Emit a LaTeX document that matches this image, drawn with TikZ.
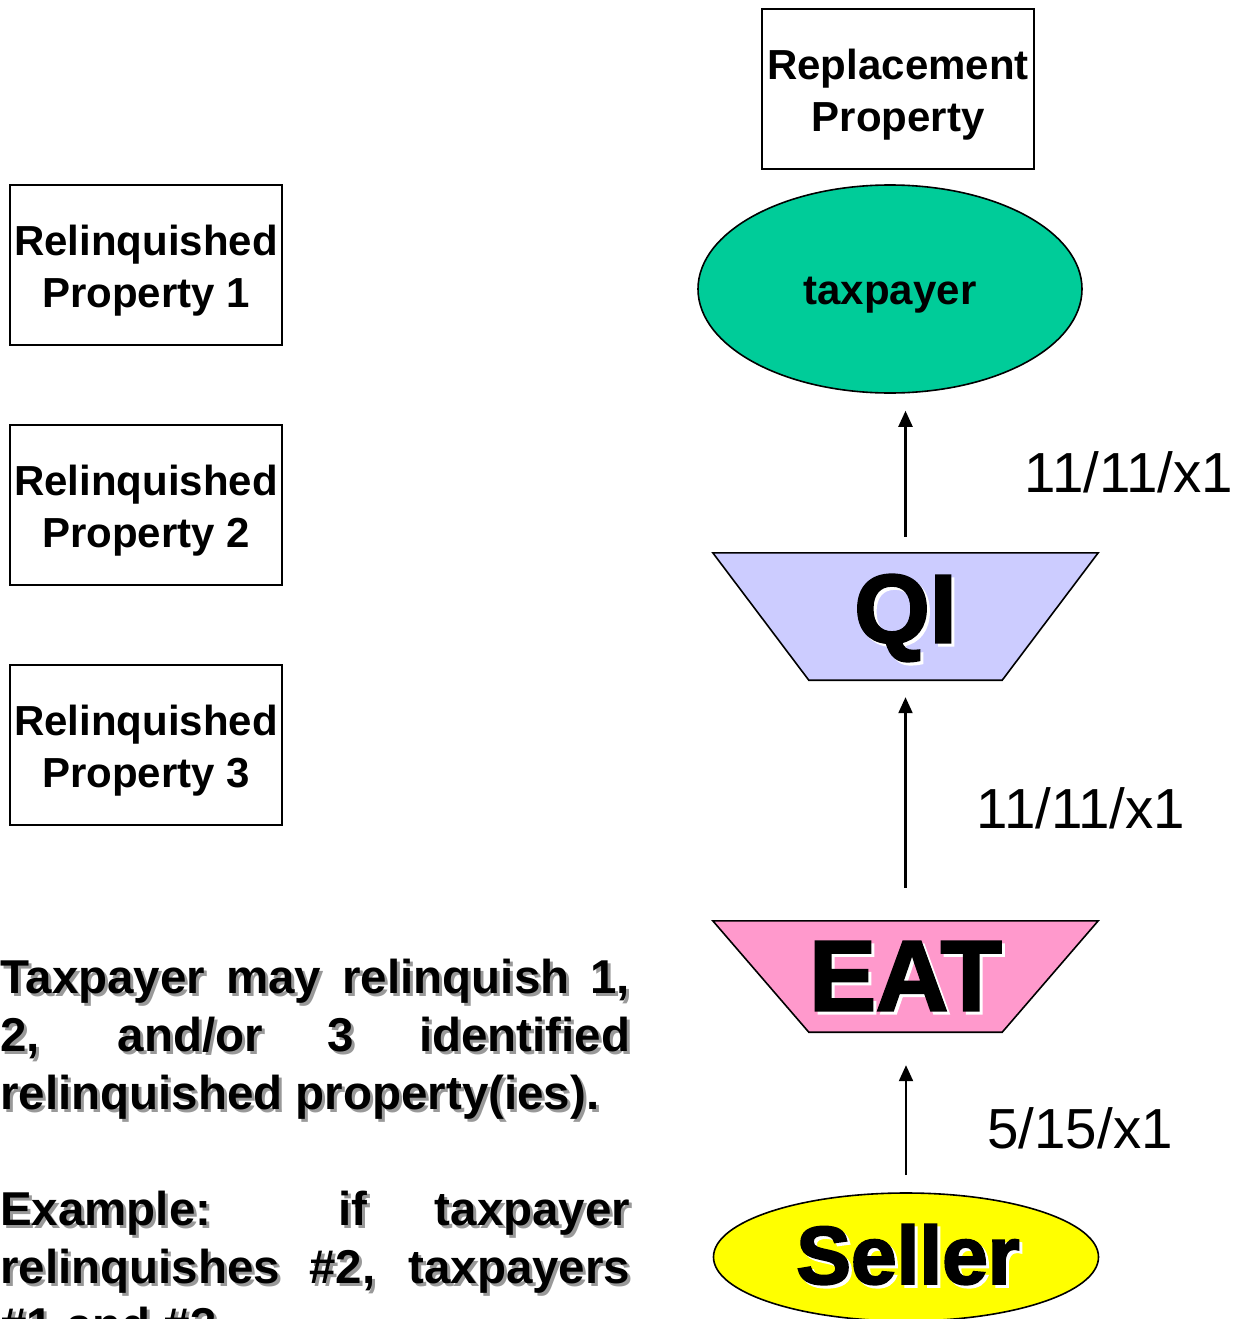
\documentclass[tikz,border=0pt]{standalone}
\usepackage{fontspec}
\setmainfont{Liberation Sans}
\newfontfamily\heavyfont[FakeBold=2.5]{Liberation Sans Bold}
\usetikzlibrary{shapes.geometric,arrows.meta,calc}

\definecolor{taxgreen}{RGB}{0,204,153}
\definecolor{sellyellow}{RGB}{255,255,0}
\definecolor{qiblue}{RGB}{204,204,255}
\definecolor{eatpink}{RGB}{255,153,204}

% heavy lettering with a light halo offset to the lower right
\newcommand{\halotext}[1]{\leavevmode\rlap{\kern3pt\raisebox{-3pt}{\color{white}#1}}#1}

% body text of the note at the lower left
\newcommand{\notetext}{%
  \hyphenpenalty=10000 \tolerance=10000 \parindent=0pt
  Taxpayer may relinquish 1,\linebreak
  2, and/or 3 identified\linebreak
  relinquished property(ies).\par
  \vspace*{58pt}%
  Example: if taxpayer\linebreak
  relinquishes \#2, taxpayers\linebreak
  \#1 and \#3\par}

\begin{document}
\begin{tikzpicture}[x=1pt,y=-1pt,
  propbox/.style={draw, line width=1.6pt, minimum width=272pt, minimum height=160pt, inner sep=0pt},
  boxtext/.style={inner sep=0pt, align=center, font=\fontsize{42}{52}\selectfont\bfseries},
  oval/.style={ellipse, draw, line width=1.6pt, inner sep=0pt},
  trapbox/.style={minimum width=385pt, inner sep=0pt},
  trapline/.style={draw, line width=1.6pt},
  arr/.style={line width=2.2pt, -{Triangle[length=16pt,width=14pt]}},
  datelbl/.style={font=\fontsize{56.5}{60}\selectfont, inner sep=0pt},
  note/.style={anchor=north west, inner sep=0pt, text width=630pt, align=justify,
    font=\fontsize{47.5}{58}\selectfont\bfseries}
]
\useasboundingbox (0,0) rectangle (1245,1319);
\clip (0,0) rectangle (1245,1319);

% property boxes
\node[propbox] (repl) at (898,89) {};
\node[propbox] (rel1) at (146,265) {};
\node[propbox] (rel2) at (146,505) {};
\node[propbox] (rel3) at (146,745) {};
\node[boxtext] (repltext) at ([yshift=-6pt]repl.center) {Replacement\\Property};
\node[boxtext] (rel1text) at ([yshift=-6pt]rel1.center) {Relinquished\\Property 1};
\node[boxtext] (rel2text) at ([yshift=-6pt]rel2.center) {Relinquished\\Property 2};
\node[boxtext] (rel3text) at ([yshift=-6pt]rel3.center) {Relinquished\\Property 3};

% taxpayer and seller
\node[oval, fill=taxgreen, minimum width=384pt, minimum height=208pt] (tp) at (890,289) {};
\node[inner sep=0pt, font=\fontsize{42}{52}\selectfont\bfseries] (tptext) at ([yshift=-6pt]tp.center) {taxpayer};
\node[oval, fill=sellyellow, minimum width=385pt, minimum height=128pt] (seller) at (906,1257) {};
\node[inner sep=0pt, font=\fontsize{82}{90}\heavyfont] (sellertext) at ([xshift=2pt,yshift=1pt]seller.center) {\halotext{Seller}};

% intermediaries drawn as inverted trapezia
\node[trapbox, minimum height=127pt] (qi) at (905.5,616.5) {};
\node[trapbox, minimum height=111pt] (eat) at (905.5,976.5) {};
\path[trapline, fill=qiblue]
  (qi.north west) -- (qi.north east) -- ([xshift=-96pt]qi.south east) -- ([xshift=96pt]qi.south west) -- cycle;
\path[trapline, fill=eatpink]
  (eat.north west) -- (eat.north east) -- ([xshift=-96pt]eat.south east) -- ([xshift=96pt]eat.south west) -- cycle;
\node[inner sep=0pt, font=\fontsize{97}{100}\heavyfont] (qitext) at ([yshift=-3pt]qi.center) {\halotext{QI}};
\node[inner sep=0pt, font=\fontsize{100}{100}\heavyfont] (eattext) at ([yshift=-1pt]eat.center) {\halotext{EAT}};

% transfers
\draw[arr, shorten <=16pt, shorten >=17pt] (qi.north) -- (qi.north |- tp.south);
\draw[arr, shorten <=33pt, shorten >=17pt] (eat.north) -- (eat.north |- qi.south);
\draw[arr, shorten <=17pt, shorten >=33pt] (seller.north) -- (seller.north |- eat.south);

% dates
\node[datelbl] (d1) at (1129,472) {11/11/x1};
\node[datelbl] (d2) at (1081,808) {11/11/x1};
\node[datelbl] (d3) at (1080,1128) {5/15/x1};

% note with a grey drop shadow
\node[note, text=black!40] (noteshadow) at (3,962) {\notetext};
\node[note] (note) at (0,959) {\notetext};
\end{tikzpicture}
\end{document}
